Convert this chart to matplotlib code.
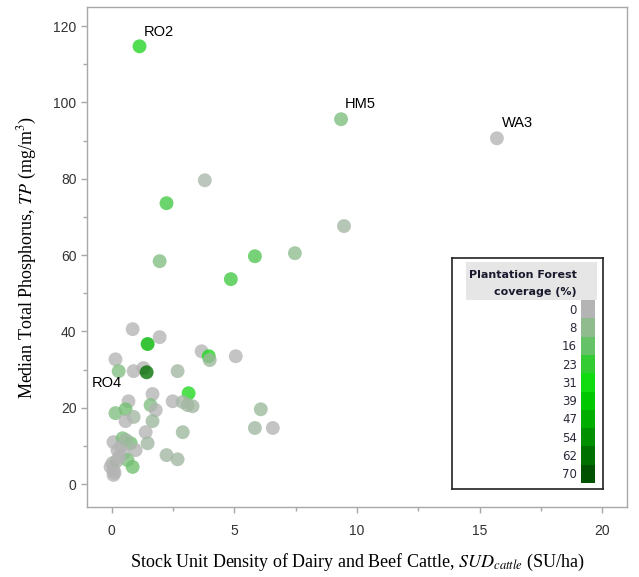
import matplotlib
matplotlib.use("Agg")
import matplotlib.pyplot as plt
import numpy as np
from matplotlib.colors import LinearSegmentedColormap
from matplotlib.patches import Rectangle

plt.rcParams['mathtext.fontset'] = 'stix'

# Data: stock unit density (SU/ha), median TP (mg/m3), plantation forest coverage (%)
sud = [1.14, 9.35, 15.7, 3.8, 2.24, 9.47, 7.47, 5.84, 1.96, 4.86,
       0.86, 1.96, 1.47, 3.67, 5.06, 3.96, 4.0, 0.16, 0.29, 0.9,
       1.3, 1.43, 2.69, 3.14, 1.67, 0.69, 1.59, 1.8, 2.49, 2.9,
       3.1, 3.3, 0.57, 0.16, 0.9, 0.57, 1.67, 6.08, 5.84, 6.57,
       1.39, 2.9, 1.47, 2.24, 2.69, 0.08, 0.45, 0.78, 0.98, 0.24,
       0.49, 0.65, 0.86, 0.04, 0.08, 0.08, -0.04, 0.37, 0.2, 0.6,
       0.3, 0.12]
tp = [114.7, 95.6, 90.6, 79.6, 73.6, 67.6, 60.5, 59.7, 58.4, 53.7,
      40.6, 38.5, 36.7, 34.8, 33.5, 33.5, 32.5, 32.7, 29.6, 29.6,
      30.4, 29.3, 29.6, 23.8, 23.6, 21.7, 20.7, 19.4, 21.7, 21.5,
      20.7, 20.4, 19.6, 18.6, 17.6, 16.5, 16.5, 19.6, 14.7, 14.7,
      13.6, 13.6, 10.7, 7.6, 6.5, 11.0, 12.0, 10.7, 8.9, 8.9,
      8.1, 6.3, 4.5, 5.5, 3.7, 2.4, 4.5, 9.7, 6.0, 11.5,
      7.0, 3.0]
cover = [27, 12, 0, 2, 21, 4, 8, 19, 11, 21,
         0, 0, 45, 0, 0, 28, 5, 0, 11, 0,
         0, 62, 4, 28, 0, 0, 11, 0, 0, 3,
         4, 4, 14, 11, 4, 0, 5, 6, 4, 0,
         0, 5, 4, 4, 4, 0, 12, 14, 0, 0,
         0, 12, 14, 0, 0, 0, 0, 0, 2, 4,
         0, 0]
labels = ['RO2', 'HM5', 'WA3', 'RO4']
label_xy = [(1.3, 117.5), (9.5, 98.5), (15.9, 93.5), (-0.8, 25.5)]

levels = [0, 8, 16, 23, 31, 39, 47, 54, 62, 70]
level_colors = ['#b4b4b4', '#8fbb8f', '#66c266', '#33cc33', '#10dc10',
                '#00c800', '#00ae00', '#009000', '#007000', '#005200']

cmap = LinearSegmentedColormap.from_list(
    'pf', [(l / 70.0, c) for l, c in zip(levels, level_colors)])

fig = plt.figure(figsize=(6.39, 5.77), dpi=100)
ax = fig.add_axes([87/639, 1-507/577, (627-87)/639, (507-7)/577])

ax.scatter(sud, tp, c=cover, cmap=cmap, vmin=0, vmax=70, s=100,
           alpha=0.78, edgecolors='none', zorder=3)

for t, (lx, ly) in zip(labels, label_xy):
    ax.text(lx, ly, t, fontsize=10.5, family='Liberation Sans', color='black', zorder=4)

ax.set_xlim(-1, 21)
ax.set_ylim(-6, 125)
ax.set_xticks([0, 5, 10, 15, 20])
ax.set_xticks([2.5, 7.5, 12.5, 17.5], minor=True)
ax.set_yticks(range(0, 121, 20))
ax.set_yticks(range(10, 121, 20), minor=True)
for sp in ax.spines.values():
    sp.set_color('#a8a8a8')
    sp.set_linewidth(1.0)
ax.tick_params(which='both', colors='#a8a8a8', labelcolor='#333333',
               direction='out', length=4, width=1)
ax.tick_params(which='minor', length=3)
ax.tick_params(axis='x', pad=8)
for lab in ax.get_xticklabels() + ax.get_yticklabels():
    lab.set_family('Liberation Sans')
    lab.set_fontsize(10)

ax.set_xlabel('Stock Unit Density of Dairy and Beef Cattle, $\\mathit{SUD}_{\\mathit{cattle}}$ (SU/ha)',
              family='Liberation Serif', fontsize=13, labelpad=10)
ax.set_ylabel('Median Total Phosphorus, $\\mathit{TP}$ (mg/m$^3$)',
              family='Liberation Serif', fontsize=13, labelpad=10)

# Legend box
lx0, ly0, lx1, ly1 = 452, 258, 603, 489
lax = fig.add_axes([lx0/639, 1-ly1/577, (lx1-lx0)/639, (ly1-ly0)/577])
lax.set_xlim(0, lx1-lx0)
lax.set_ylim(ly1-ly0, 0)
lax.set_xticks([])
lax.set_yticks([])
for sp in lax.spines.values():
    sp.set_color('#222222')
    sp.set_linewidth(1.2)
lax.add_patch(Rectangle((14, 4), 131, 38, color='#e6e6e6', lw=0))
lax.text(125, 17, 'Plantation Forest', ha='right', va='center',
         fontsize=8, fontweight='bold', family='DejaVu Sans', color='#1a1a2e')
lax.text(125, 34, 'coverage (%)', ha='right', va='center',
         fontsize=8, fontweight='bold', family='DejaVu Sans', color='#1a1a2e')
bh = (225 - 42) / len(levels)
for i, (l, c) in enumerate(zip(levels, level_colors)):
    y = 42 + i * bh
    lax.add_patch(Rectangle((129, y), 14, bh, color=c, lw=0))
    lax.text(125, y + bh/2 + 1, str(l), ha='right', va='center',
             fontsize=8.5, family='DejaVu Sans', color='#2a2a3a')

fig.savefig('out.png', dpi=100)
